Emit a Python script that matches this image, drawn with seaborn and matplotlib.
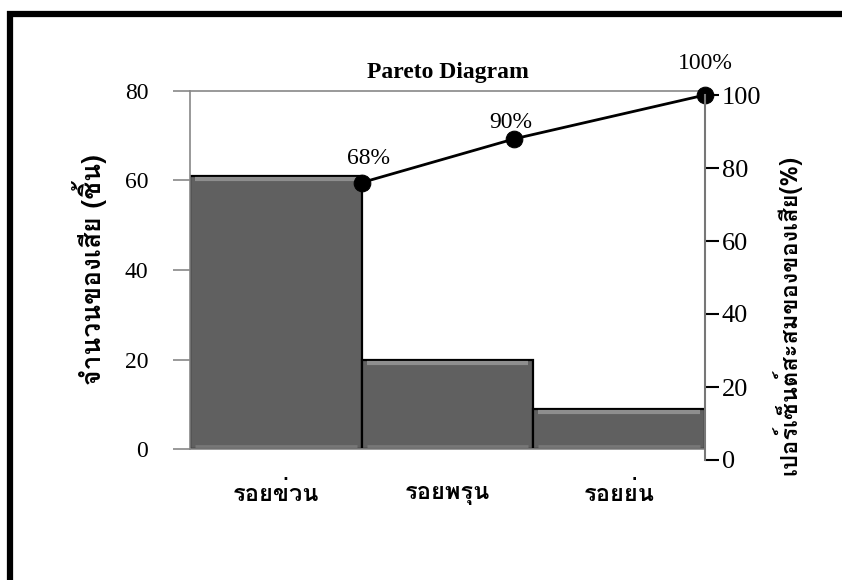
import numpy as np
import matplotlib
matplotlib.use("Agg")
import matplotlib.pyplot as plt
import matplotlib.transforms as mtransforms
import seaborn as sns
from matplotlib import font_manager
from matplotlib.ft2font import FT2Font
from matplotlib.lines import Line2D

# ข้อมูล
categories = ['รอยข่วน', 'รอยพรุน', 'รอยย่น']
counts = [61, 20, 9]
cum_labels = ['68%', '90%', '100%']
# ตำแหน่งจุดของเส้นสะสมตามที่อ่านได้จากภาพ (หน่วยแกนขวา)
line_x = [0.5, 1.39, 2.5]
line_y = [76, 88, 100]
left_ticks = [0, 20, 40, 60, 80]
right_ticks = [0, 20, 40, 60, 80, 100]


def find_thai_font():
    """หาฟอนต์ที่มีอักษรไทย"""
    names = []
    for f in font_manager.fontManager.ttflist:
        try:
            if 0x0E2D in FT2Font(f.fname).get_charmap():
                names.append(f.name)
        except Exception:
            pass
    return names[0] if names else 'DejaVu Sans'


thai = find_thai_font()

sns.set_theme(style='white')
plt.rcParams['font.family'] = ['Liberation Serif', thai, 'DejaVu Sans']
plt.rcParams['text.color'] = 'black'
plt.rcParams['axes.labelcolor'] = 'black'
plt.rcParams['xtick.labelcolor'] = 'black'
plt.rcParams['ytick.labelcolor'] = 'black'

fig = plt.figure(figsize=(8.42, 5.8), dpi=100)
ax = fig.add_axes([190 / 842, 131 / 580, 515 / 842, 358 / 580])
ax2 = fig.add_axes([190 / 842, 120 / 580, 515 / 842, 365 / 580], sharex=ax)

# แท่ง
sns.barplot(x=categories, y=counts, color='#606060', saturation=1, width=1,
            edgecolor='black', linewidth=1.6, ax=ax)

# เงานูนของแท่ง
hi = mtransforms.offset_copy(ax.transData, fig=fig, x=0, y=-3, units='dots')
lo = mtransforms.offset_copy(ax.transData, fig=fig, x=0, y=3, units='dots')
for p in ax.patches:
    x0, w, h = p.get_x(), p.get_width(), p.get_height()
    ax.plot([x0 + 0.03, x0 + w - 0.03], [h, h], color='#8e8e8e', lw=3,
            transform=hi, solid_capstyle='butt', zorder=3)
    ax.plot([x0 + 0.03, x0 + w - 0.03], [0, 0], color='#777777', lw=2,
            transform=lo, solid_capstyle='butt', zorder=3)

ax.set_xlim(-0.5, 2.5)
ax.set_ylim(0, 80)
ax.set_yticks(left_ticks)
ax.tick_params(axis='y', left=True, direction='out', length=12, width=1.2,
               color='#888888', labelsize=17, pad=18)
ax.tick_params(axis='x', bottom=False, length=0, pad=24)
for lab in ax.get_xticklabels():
    lab.set_family([thai, 'DejaVu Sans'])
    lab.set_fontweight('bold')
    lab.set_fontsize(17)
for s in ['left', 'top', 'bottom']:
    ax.spines[s].set_color('#888888')
    ax.spines[s].set_linewidth(1.2)
ax.spines['right'].set_visible(False)
ax.set_xlabel('')
ax.set_ylabel('จำนวนของเสีย (ชิ้น)', family=[thai, 'DejaVu Sans'],
              fontweight='bold', fontsize=19)
ax.yaxis.set_label_coords(-0.161, 0.5)
ax.set_title('Pareto Diagram', fontweight='bold', fontsize=17, pad=9)

# เส้นสะสม
ax2.patch.set_visible(False)
for s in ['left', 'top', 'bottom']:
    ax2.spines[s].set_visible(False)
ax2.spines['right'].set_color('#777777')
ax2.spines['right'].set_linewidth(1.5)
sns.lineplot(x=line_x, y=line_y, sort=False, color='black', linewidth=2,
             marker='o', markersize=12, markeredgecolor='black', ax=ax2,
             clip_on=False)
ax2.set_ylim(0, 100)
ax2.set_yticks(right_ticks)
ax2.yaxis.tick_right()
ax2.tick_params(axis='y', right=True, direction='out', length=10, width=1.5,
                color='black', labelsize=19, pad=2, left=False, labelleft=False)
ax2.tick_params(axis='x', bottom=False, labelbottom=False)
ax2.yaxis.set_label_position('right')
ax2.set_ylabel('เปอร์เซ็นต์สะสมของของเสีย(%)', family=[thai, 'DejaVu Sans'],
               fontweight='bold', fontsize=17, rotation=90)
ax2.yaxis.set_label_coords(1.13, 0.397)

offsets = [(5, 17), (-3, 12), (0, 23)]
for x, y, lab, off in zip(line_x, line_y, cum_labels, offsets):
    ax2.annotate(lab, (x, y), xytext=off, textcoords='offset points',
                 ha='center', va='center', fontsize=17)

# กรอบดำ
fig.add_artist(Line2D([10 / 842, 10 / 842], [0, 1 - 11 / 580], color='black',
                      linewidth=4.5, solid_capstyle='butt',
                      transform=fig.transFigure))
fig.add_artist(Line2D([7 / 842, 1], [1 - 14 / 580, 1 - 14 / 580], color='black',
                      linewidth=4.5, solid_capstyle='butt',
                      transform=fig.transFigure))

fig.savefig('out.png', dpi=100)
